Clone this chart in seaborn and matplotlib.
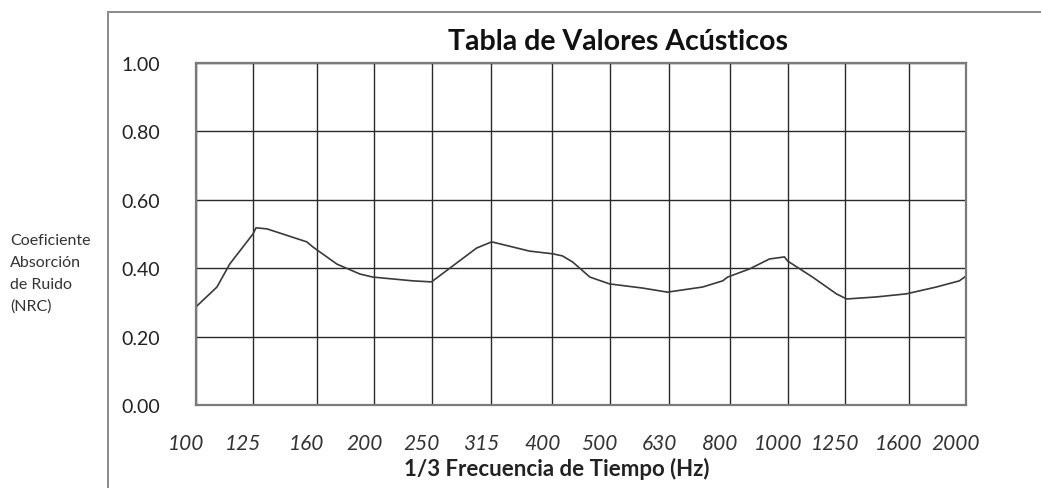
import matplotlib
matplotlib.use("Agg")
import matplotlib.pyplot as plt
import matplotlib.transforms as mtransforms
from matplotlib.patches import Rectangle
from matplotlib.ticker import FixedLocator, NullLocator
import seaborn as sns
import pandas as pd

# ---- data ----
freq_hz = [100, 108.5, 114, 124.8, 126.3, 131.8, 153.9, 157.6, 173, 189.2, 199,
           232.5, 250, 298, 316, 366, 401, 416, 433, 463, 500, 568, 626, 718,
           776, 791, 862, 931, 987, 999, 1101, 1208, 1257, 1412, 1586, 1782,
           1949, 2000]
nrc = [0.287, 0.345, 0.412, 0.500, 0.518, 0.515, 0.477, 0.462, 0.412, 0.383,
       0.374, 0.363, 0.360, 0.459, 0.477, 0.450, 0.442, 0.436, 0.418, 0.374,
       0.354, 0.342, 0.330, 0.345, 0.363, 0.374, 0.398, 0.427, 0.433, 0.421,
       0.374, 0.325, 0.310, 0.316, 0.325, 0.345, 0.363, 0.377]
band_ticks = [100, 125, 160, 200, 250, 315, 400, 500, 630, 800, 1000, 1250, 1600, 2000]
band_labels = [str(b) for b in band_ticks]
y_ticks = [0.0, 0.2, 0.4, 0.6, 0.8, 1.0]
y_labels = ["0.00", "0.20", "0.40", "0.60", "0.80", "1.00"]

title = "Tabla de Valores Acústicos"
x_title = "1/3 Frecuencia de Tiempo (Hz)"
y_title = "Coeficiente\nAbsorción\nde Ruido\n(NRC)"

df = pd.DataFrame({"freq": freq_hz, "nrc": nrc})

sns.set_theme(style="white")
plt.rcParams["font.family"] = ["Lato", "DejaVu Sans"]

W, H = 1041, 489
fig = plt.figure(figsize=(W / 100, H / 100), dpi=100)
fig.patch.set_facecolor("white")

# outer chart frame
fig.add_artist(Rectangle((108 / W, -0.2), 1.0, 1.2 - 13 / H, transform=fig.transFigure,
                         fill=False, edgecolor="#8a8a8a", linewidth=1.4, clip_on=False))

left, right, top, bottom = 196, 966, 64, 406
ax = fig.add_axes([left / W, 1 - bottom / H, (right - left) / W, (bottom - top) / H])
ax.set_facecolor("white")

ax.set_xscale("log")
sns.lineplot(data=df, x="freq", y="nrc", ax=ax, color="#3a3a3a", linewidth=1.2,
             sort=False, estimator=None)

ax.set_xlim(100, 2000)
ax.set_ylim(0, 1.0)
ax.xaxis.set_major_locator(FixedLocator(band_ticks))
ax.xaxis.set_minor_locator(NullLocator())
ax.set_xticklabels(band_labels)
ax.set_yticks(y_ticks)
ax.set_yticklabels(y_labels)

ax.grid(True, color="#2a2a2a", linewidth=1.0)
ax.set_axisbelow(True)
for s in ax.spines.values():
    s.set_color("#7a7a7a")
    s.set_linewidth(1.6)

ax.tick_params(axis="both", length=0)
ax.tick_params(axis="y", pad=26, labelsize=14, labelcolor="#222222")
ax.tick_params(axis="x", pad=20, labelsize=15, labelcolor="#333333")
for lab in ax.get_xticklabels():
    lab.set_fontstyle("italic")
    lab.set_transform(lab.get_transform() +
                      mtransforms.ScaledTranslation(-10 / 100, 0, fig.dpi_scale_trans))

ax.set_xlabel("")
ax.set_ylabel("")

fig.text(618 / W, 1 - 42 / H, title, ha="center", va="center", fontsize=20.5,
         fontweight="bold", color="#111111")
fig.text(557 / W, 1 - 469 / H, x_title, ha="center", va="center", fontsize=16,
         fontweight="bold", color="#222222")
fig.text(10 / W, 1 - 274 / H, y_title, ha="left", va="center", fontsize=11.5,
         color="#333333", linespacing=1.72)

fig.savefig("out.png", dpi=100, facecolor="white")
